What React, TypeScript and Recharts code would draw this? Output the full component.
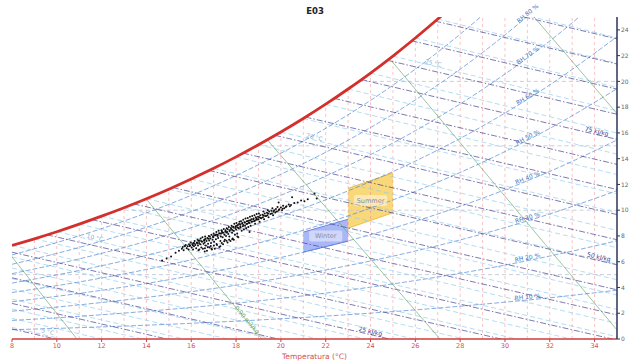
import React from 'react';
import { ComposedChart, XAxis, YAxis, Line, Area, Scatter, ReferenceDot } from 'recharts';

const tempTicks = [8, 10, 12, 14, 16, 18, 20, 22, 24, 26, 28, 30, 32, 34];
const humTicks = [0, 2, 4, 6, 8, 10, 12, 14, 16, 18, 20, 22, 24];

// saturation curve (RH 100 %), humidity ratio in g/kg
const satTemps = [8, 9, 10, 11, 12, 13, 14, 15, 16, 17, 18, 19, 20, 21, 22, 23, 24, 25, 26, 27, 28];
const satHum = [7.27, 7.78, 8.33, 8.92, 9.54, 10.19, 10.89, 11.63, 12.42, 13.25, 14.14, 15.08, 16.07, 17.12, 18.23, 19.41, 20.65, 21.97, 23.37, 24.84, 26.4];

// relative humidity curves
const rhTemps = [8, 11, 14, 17, 20, 23, 26, 29, 32, 35];
const rh10 = [0.72, 0.88, 1.07, 1.3, 1.57, 1.89, 2.26, 2.7, 3.2, 3.79];
const rh20 = [1.44, 1.76, 2.15, 2.61, 3.15, 3.79, 4.54, 5.41, 6.44, 7.63];
const rh30 = [2.16, 2.65, 3.23, 3.92, 4.73, 5.7, 6.83, 8.16, 9.71, 11.52];
const rh40 = [2.89, 3.54, 4.31, 5.24, 6.33, 7.62, 9.14, 10.93, 13.01, 15.45];
const rh50 = [3.61, 4.43, 5.4, 6.56, 7.93, 9.56, 11.47, 13.72, 16.35, 19.43];
const rh60 = [4.34, 5.32, 6.49, 7.89, 9.54, 11.5, 13.81, 16.53, 19.73, 23.47];
const rh70 = [5.07, 6.22, 7.59, 9.22, 11.16, 13.46, 16.17, 19.38, 23.14, 27.55];
const rh80 = [5.8, 7.11, 8.68, 10.56, 12.79, 15.43, 18.56, 22.24, 26.58, 31.7];
const rh90 = [6.53, 8.01, 9.79, 11.9, 14.42, 17.41, 20.95, 25.14, 30.07, 35.9];
const rhCurves = [rh10, rh20, rh30, rh40, rh50, rh60, rh70, rh80, rh90];

// dry bulb grid (vertical), up to saturation
const dryBulbTemps = [9, 10, 11, 12, 13, 14, 15, 16, 17, 18, 19, 20, 21, 22, 23, 24, 25, 26, 27, 28, 29, 30, 31, 32, 33, 34];
const dryBulbTop = [7.78, 8.33, 8.92, 9.54, 10.19, 10.89, 11.63, 12.42, 13.25, 14.14, 15.08, 16.07, 17.12, 18.23, 19.41, 20.65, 21.97, 23.37, 24.84, 25, 25, 25, 25, 25, 25, 25];

// humidity grid (horizontal)
const humGrid = [5, 10, 15, 20];
const humGridStart = [8, 12.71, 18.91, 23.48];

// wet bulb lines, 0..28 °C
const wetBulbStart = [
  [8, 0.9], [8, 1.6], [8, 2.33], [8, 3.09], [8, 3.87], [8, 4.68], [8, 5.51], [8, 6.37], [8, 7.27],
  [9, 7.78], [10, 8.33], [11, 8.92], [12, 9.54], [13, 10.19], [14, 10.89], [15, 11.63], [16, 12.42],
  [17, 13.25], [18, 14.14], [19, 15.08], [20, 16.07], [21, 17.12], [22, 18.23], [23, 19.41],
  [24, 20.65], [25, 21.97], [26, 23.37], [27, 24.84], [28, 26.4],
];
const wetBulbEnd = [
  [10.24, 0], [12.0, 0], [13.81, 0], [15.69, 0], [17.62, 0], [19.6, 0], [21.65, 0], [23.75, 0], [25.94, 0],
  [28.18, 0], [30.52, 0], [32.95, 0], [35, 0.18], [35, 1.21], [35, 2.3], [35, 3.42], [35, 4.6],
  [35, 5.81], [35, 7.09], [35, 8.43], [35, 9.81], [35, 11.26], [35, 12.77], [35, 14.35],
  [35, 15.99], [35, 17.72], [35, 19.53], [35, 21.41], [35, 23.38],
];

// enthalpy lines, 10..95 kJ/kg
const enthalpyStart = [
  [8, 0.78], [8, 2.76], [8, 4.75], [8, 6.74], [9.56, 8.09], [11.56, 9.27], [13.43, 10.49], [15.17, 11.76],
  [16.79, 13.08], [18.31, 14.43], [19.74, 15.81], [21.1, 17.23], [22.38, 18.68], [23.59, 20.14],
  [24.75, 21.64], [25.84, 23.15], [26.89, 24.68], [30.86, 25],
];
const enthalpyEnd = [
  [9.94, 0], [14.91, 0], [19.88, 0], [24.85, 0], [29.82, 0], [34.79, 0], [35, 1.87], [35, 3.82],
  [35, 5.76], [35, 7.71], [35, 9.66], [35, 11.61], [35, 13.56], [35, 15.5],
  [35, 17.45], [35, 19.4], [35, 21.35], [35, 23.3],
];

// specific volume lines
const volumeStart = [[7.85, 6.7], [14.0, 10.85], [19.4, 15.45], [24.96, 21.55], [31.3, 25]];
const volumeEnd = [[10.9, 0], [19.15, 0], [27.1, 0], [35, 0.7], [35, 17.5]];

// comfort zones
const winterTemps = [21, 23];
const winterLow = [6.74, 7.6];
const winterHigh = [8.3, 9.3];
const summerTemps = [23, 25];
const summerLow = [8.6, 9.8];
const summerHigh = [11.7, 12.9];

// measured points E03 (T, g/kg)
const measured = [
  [14.7, 6.1], [14.9, 6.25], [15.1, 6.4], [15.3, 6.7], [15.45, 6.85], [15.58, 7.0], [15.62, 7.15], [15.66, 6.9],
  [15.75, 7.3], [15.8, 7.05], [15.84, 7.2], [15.88, 6.95], [15.9, 7.35],
  [15.95, 7.25], [15.98, 7.5], [16.02, 7.1], [16.05, 7.35], [16.08, 6.95], [16.1, 7.45], [16.12, 7.2],
  [16.15, 7.6], [16.18, 7.3], [16.22, 7.05], [16.25, 7.5], [16.28, 7.7], [16.3, 7.25], [16.32, 6.9], [16.35, 7.45],
  [16.38, 7.65], [16.4, 7.35], [16.42, 7.8], [16.45, 7.1], [16.48, 7.55], [16.5, 7.9], [16.52, 7.0], [16.55, 7.4],
  [16.58, 7.7], [16.6, 7.5], [16.62, 7.95], [16.65, 7.25], [16.68, 7.6], [16.7, 6.85], [16.72, 7.85], [16.75, 7.4],
  [16.78, 8.0], [16.8, 7.65], [16.82, 7.1], [16.85, 7.8], [16.88, 7.45], [16.9, 8.1], [16.92, 6.95], [16.95, 7.7],
  [16.98, 7.9], [17.0, 8.2], [17.02, 7.55], [17.05, 7.0], [17.08, 8.05], [17.1, 7.75], [17.12, 8.3], [17.15, 7.3],
  [17.18, 8.1], [17.2, 7.85], [17.22, 8.4], [17.25, 7.15], [17.28, 8.2], [17.3, 7.6], [17.32, 7.95], [17.35, 8.45],
  [17.38, 8.25], [17.4, 7.9], [17.42, 7.35], [17.45, 8.55], [17.48, 8.1], [17.5, 7.7], [17.52, 8.35], [17.55, 8.0],
  [17.58, 8.6], [17.6, 8.3], [17.62, 7.5], [17.65, 8.15], [17.68, 8.7], [17.7, 7.95], [17.72, 8.45], [17.75, 7.6],
  [17.78, 8.55], [17.8, 8.8], [17.82, 8.25], [17.85, 7.8], [17.88, 8.65], [17.9, 8.4], [17.92, 8.95], [17.95, 8.1],
  [17.98, 8.75], [18.0, 8.5], [18.02, 9.0], [18.05, 8.2], [18.08, 8.85], [18.1, 7.9], [18.12, 8.6], [18.15, 9.1],
  [18.18, 8.9], [18.2, 8.65], [18.22, 9.15], [18.25, 8.4], [18.28, 9.0], [18.3, 8.75], [18.32, 9.25], [18.35, 8.5],
  [18.38, 9.05], [18.4, 8.8], [18.42, 9.35], [18.45, 8.6], [18.48, 9.15], [18.5, 8.95], [18.52, 9.4], [18.55, 8.7],
  [18.58, 9.2], [18.6, 9.0], [18.62, 9.5], [18.65, 8.8], [18.68, 9.3], [18.7, 9.1], [18.72, 9.55],
  [18.78, 9.35], [18.8, 9.15], [18.82, 9.6], [18.85, 8.95], [18.88, 9.45], [18.9, 9.25], [18.92, 9.7],
  [18.98, 9.5], [19.0, 9.3], [19.02, 9.75], [19.05, 9.1], [19.08, 9.6], [19.1, 9.4],
  [19.18, 9.65], [19.2, 9.45], [19.22, 9.9], [19.25, 9.3], [19.28, 9.75], [19.3, 9.55],
  [19.38, 9.8], [19.4, 9.6], [19.42, 10.0], [19.45, 9.45], [19.48, 9.9],
  [19.58, 9.95], [19.6, 9.75], [19.62, 10.15], [19.65, 9.6], [19.7, 10.0],
  [19.78, 10.1], [19.82, 9.9], [19.85, 10.25], [19.9, 10.0], [19.9, 10.6],
  [20.0, 10.2], [20.05, 10.0], [20.1, 10.35], [20.15, 10.15], [20.25, 10.3], [20.35, 10.45], [20.45, 10.4],
  [20.5, 11.0], [20.6, 10.55], [20.75, 10.6], [20.9, 10.75], [21.05, 10.7], [21.2, 10.85], [21.5, 11.3], [21.6, 10.9],
  [18.6, 8.3], [17.9, 7.7], [16.9, 7.0], [17.3, 7.2], [16.6, 6.8],
  // dense core
  [15.71, 7.2], [15.93, 7.22], [16.07, 7.28], [16.13, 7.41], [16.27, 7.44], [16.33, 7.62], [16.46, 7.58],
  [16.57, 7.63], [16.63, 7.78], [16.77, 7.79], [16.83, 7.96], [16.97, 7.97], [17.03, 8.06], [17.11, 8.11],
  [17.17, 7.99], [17.24, 8.22], [17.33, 8.19], [17.37, 8.36], [17.44, 8.24], [17.53, 8.45], [17.57, 8.28],
  [17.63, 8.52], [17.71, 8.39], [17.77, 8.62], [17.83, 8.47], [17.87, 8.71], [17.96, 8.62], [18.03, 8.79],
  [18.07, 8.66], [18.13, 8.92], [18.19, 8.76], [18.27, 8.95], [18.33, 8.86], [18.39, 9.07], [18.46, 8.93],
  [18.53, 9.16], [18.57, 9.02], [18.63, 9.21], [18.71, 9.12], [18.77, 9.29], [18.84, 9.18], [18.91, 9.38],
  [18.97, 9.27], [19.04, 9.46], [19.13, 9.37], [19.23, 9.58], [19.34, 9.55], [19.43, 9.74], [19.53, 9.71],
  [19.67, 9.88], [19.75, 9.82], [19.93, 10.08], [20.08, 10.12], [20.22, 10.24], [20.4, 10.31],
  // lower band
  [16.36, 6.95], [16.61, 7.05], [16.87, 7.22], [17.13, 7.38], [17.36, 7.45], [17.57, 7.62], [17.83, 7.74],
  [18.06, 7.95], [17.01, 7.25], [16.74, 7.12], [17.47, 7.58], [17.69, 7.7],
];

// line labels
const rhLabels = [
  { text: 'RH 10 %', x: 31, y: 3.3, angle: -5.5 },
  { text: 'RH 20 %', x: 31, y: 6.35, angle: -11 },
  { text: 'RH 30 %', x: 31, y: 9.45, angle: -16.5 },
  { text: 'RH 40 %', x: 31, y: 12.55, angle: -22 },
  { text: 'RH 50 %', x: 31, y: 15.7, angle: -27 },
  { text: 'RH 60 %', x: 31, y: 18.85, angle: -31.5 },
  { text: 'RH 70 %', x: 31, y: 22.05, angle: -36 },
  { text: 'RH 80 %', x: 31, y: 25.3, angle: -39 },
];
const enthalpyLabels = [
  { text: '25 kJ/kg', x: 24.0, y: 0.62, angle: 12.7 },
  { text: '50 kJ/kg', x: 34.2, y: 6.4, angle: 12.7 },
  { text: '75 kJ/kg', x: 34.1, y: 16.15, angle: 12.7 },
];
const wetBulbLabels = [
  { text: '5 °C', x: 9.6, y: 0.6, angle: 13 },
  { text: '10 °C', x: 11.7, y: 7.9, angle: 13 },
  { text: '20 °C', x: 21.5, y: 15.7, angle: 13 },
  { text: '25 °C', x: 26.8, y: 21.45, angle: 13 },
];
const volumeLabels = [{ text: '0.90 m3/kg', x: 18.5, y: 1.5, angle: 50 }];
const zoneLabels = [
  { text: 'Winter', x: 22, y: 8.0 },
  { text: 'Summer', x: 24, y: 10.75 },
];

const seg = (a: number[], b: number[]) => [{ x: a[0], y: a[1] }, { x: b[0], y: b[1] }];
const curve = (xs: number[], ys: number[]) => xs.map((x, i) => ({ x, y: ys[i] }));
const range = (xs: number[], lo: number[], hi: number[]) => xs.map((x, i) => ({ x, y: [lo[i], hi[i]] }));

const FONT = '"DejaVu Sans", sans-serif';

function tag(text: string, angle: number, color: string, size: number) {
  return (p: any) => (
    <text
      x={p.cx}
      y={p.cy}
      transform={`rotate(${angle} ${p.cx} ${p.cy})`}
      textAnchor="middle"
      dominantBaseline="central"
      fontSize={size}
      fontFamily={FONT}
      fill={color}
    >
      {text}
    </text>
  );
}

function zoneTag(text: string) {
  return (p: any) => {
    const w = text.length * 4.2 + 8;
    return (
      <g>
        <rect x={p.cx - w / 2} y={p.cy - 5.5} width={w} height={11} rx={2} fill="#ffffff" fillOpacity={0.45} />
        <text x={p.cx} y={p.cy} textAnchor="middle" dominantBaseline="central" fontSize={6.5} fontFamily={FONT} fill="#8a8a9a">
          {text}
        </text>
      </g>
    );
  };
}

const lineProps = { dataKey: 'y', dot: false, activeDot: false, isAnimationActive: false, legendType: 'none' as const };

export default function App() {
  return (
    <div style={{ position: 'absolute', left: 0, top: 0, width: 630, height: 363, background: '#fff', fontFamily: FONT }}>
      <div style={{ position: 'absolute', left: 0, top: 6, width: 630, textAlign: 'center', fontSize: 8.5, fontWeight: 'bold', color: '#222', lineHeight: '10px' }}>
        E03
      </div>
      <ComposedChart width={630} height={363} margin={{ top: 17, right: 0, bottom: 0, left: 12 }} style={{ fontFamily: FONT }}>
        <XAxis
          type="number"
          dataKey="x"
          domain={[8, 35]}
          ticks={tempTicks}
          interval={0}
          allowDataOverflow
          axisLine={{ stroke: '#d23c3c', strokeWidth: 1.5 }}
          tickLine={{ stroke: '#d23c3c' }}
          tick={{ fontSize: 6.5, fill: '#d65050' }}
          tickSize={3}
          tickMargin={1}
          height={24}
          label={{ value: 'Temperatura (°C)', position: 'insideBottom', offset: 4, fontSize: 7.5, fill: '#d65050' }}
        />
        <YAxis
          type="number"
          dataKey="y"
          orientation="right"
          domain={[0, 25]}
          ticks={humTicks}
          interval={0}
          allowDataOverflow
          width={13}
          axisLine={{ stroke: '#2b3556', strokeWidth: 1.5 }}
          tickLine={{ stroke: '#2b3556' }}
          tick={{ fontSize: 6, fill: '#666' }}
          tickSize={3}
          tickMargin={1}
        />

        {dryBulbTemps.map((t, i) => (
          <Line key={`db${t}`} {...lineProps} data={seg([t, 0], [t, dryBulbTop[i]])} stroke="#e58a8a" strokeOpacity={0.6} strokeWidth={0.8} strokeDasharray="3 3" />
        ))}
        {humGrid.map((w, i) => (
          <Line key={`hg${w}`} {...lineProps} data={seg([humGridStart[i], w], [35, w])} stroke="#c3cbd8" strokeWidth={0.9} strokeDasharray="4 3" />
        ))}
        {wetBulbStart.map((s, i) => (
          <Line key={`wb${i}`} {...lineProps} data={seg(s, wetBulbEnd[i])} stroke="#8fcdeb" strokeOpacity={0.85} strokeWidth={0.8} strokeDasharray="5 3" />
        ))}
        {rhCurves.map((c, i) => (
          <Line key={`rh${i}`} {...lineProps} type="monotone" data={curve(rhTemps, c)} stroke="#4f86d0" strokeOpacity={0.8} strokeWidth={0.85} strokeDasharray="5 2" />
        ))}
        {enthalpyStart.map((s, i) => (
          <Line key={`h${i}`} {...lineProps} data={seg(s, enthalpyEnd[i])} stroke="#413a8c" strokeOpacity={0.8} strokeWidth={0.85} strokeDasharray="6 2 1.5 2" />
        ))}
        {volumeStart.map((s, i) => (
          <Line key={`v${i}`} {...lineProps} data={seg(s, volumeEnd[i])} stroke="#5c9e62" strokeOpacity={0.75} strokeWidth={0.8} />
        ))}
        <Line {...lineProps} type="monotone" data={curve(satTemps, satHum)} stroke="#d4302b" strokeWidth={2.8} />

        <Area data={range(winterTemps, winterLow, winterHigh)} dataKey="y" type="linear" fill="#7d8ff2" fillOpacity={0.65} stroke="#5b6fe0" strokeWidth={0.8} isAnimationActive={false} legendType="none" />
        <Area data={range(summerTemps, summerLow, summerHigh)} dataKey="y" type="linear" fill="#f7c842" fillOpacity={0.7} stroke="#e8b530" strokeWidth={0.8} isAnimationActive={false} legendType="none" />

        <Scatter
          data={measured.map(([x, y]) => ({ x, y }))}
          isAnimationActive={false}
          legendType="none"
          shape={(p: any) => <circle cx={p.cx} cy={p.cy} r={1} fill="#111" />}
        />

        {zoneLabels.map((l) => (
          <ReferenceDot key={l.text} x={l.x} y={l.y} r={0} ifOverflow="visible" shape={zoneTag(l.text)} />
        ))}
        {rhLabels.map((l) => (
          <ReferenceDot key={l.text} x={l.x} y={l.y} r={0} ifOverflow="visible" shape={tag(l.text, l.angle, '#3f72bd', 6)} />
        ))}
        {enthalpyLabels.map((l) => (
          <ReferenceDot key={l.text} x={l.x} y={l.y} r={0} ifOverflow="visible" shape={tag(l.text, l.angle, '#3d3588', 6)} />
        ))}
        {wetBulbLabels.map((l) => (
          <ReferenceDot key={l.text} x={l.x} y={l.y} r={0} ifOverflow="visible" shape={tag(l.text, l.angle, '#7fb6d8', 6)} />
        ))}
        {volumeLabels.map((l) => (
          <ReferenceDot key={l.text} x={l.x} y={l.y} r={0} ifOverflow="visible" shape={tag(l.text, l.angle, '#6aa86a', 6)} />
        ))}
      </ComposedChart>
    </div>
  );
}
